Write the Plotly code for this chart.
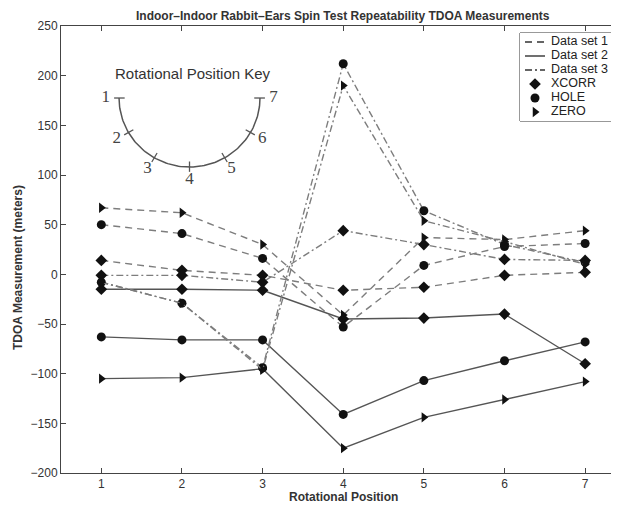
import numpy as np
import plotly.graph_objects as go

# ---------------- data ----------------
positions = [1, 2, 3, 4, 5, 6, 7]

ds1_xcorr = [14, 4, -1, -16, -13, -1, 2]
ds1_hole = [50, 41, 16, -53, 9, 28, 31]
ds1_zero = [67, 62, 30, -41, 37, 35, 44]

ds2_xcorr = [-15, -15, -16, -45, -44, -40, -90]
ds2_hole = [-63, -66, -66, -141, -107, -87, -68]
ds2_zero = [-105, -104, -95, -175, -144, -126, -108]

ds3_xcorr = [-1, -1, -8, 44, 30, 15, 14]
ds3_hole = [-8, -29, -94, 212, 64, 30, 12]
ds3_zero = [-8, -29, -96, 190, 54, 33, 10]

y_ticks = [-200, -150, -100, -50, 0, 50, 100, 150, 200, 250]
key_labels = ["1", "2", "3", "4", "5", "6", "7"]

set_names = ["Data set 1", "Data set 2", "Data set 3"]
method_names = ["XCORR", "HOLE", "ZERO"]

# ---------------- geometry (screen px; page body has an 8px margin) ----------------
OFF = 8
W, H = 619 - OFF, 507 - OFF
ML, MR, MT, MB = 61 - OFF, 0, 26 - OFF, 34
PW, PH = W - ML - MR, H - MT - MB


def px_x(sx):
    return (sx - OFF - ML) / PW


def px_y(sy):
    return (H - MB - (sy - OFF)) / PH


dash_styles = {"Data set 1": "7px,5px", "Data set 2": "solid", "Data set 3": "7px,3px,2px,3px"}
line_colors = {"Data set 1": "#7d7d7d", "Data set 2": "#555555", "Data set 3": "#7d7d7d"}
symbols = {"XCORR": "diamond", "HOLE": "circle", "ZERO": "triangle-right"}

series = {
    ("Data set 1", "XCORR"): ds1_xcorr,
    ("Data set 1", "HOLE"): ds1_hole,
    ("Data set 1", "ZERO"): ds1_zero,
    ("Data set 2", "XCORR"): ds2_xcorr,
    ("Data set 2", "HOLE"): ds2_hole,
    ("Data set 2", "ZERO"): ds2_zero,
    ("Data set 3", "XCORR"): ds3_xcorr,
    ("Data set 3", "HOLE"): ds3_hole,
    ("Data set 3", "ZERO"): ds3_zero,
}

fig = go.Figure()

for (sname, mname), vals in series.items():
    fig.add_trace(go.Scatter(
        x=positions, y=vals, mode="lines+markers", name=f"{sname} {mname}",
        line=dict(color=line_colors[sname], width=1.4, dash=dash_styles[sname]),
        marker=dict(symbol=symbols[mname], size=9, color="#111111"),
        showlegend=False, hoverinfo="skip",
    ))

# ---------------- rotational position key (inset) ----------------
n_keys = len(key_labels)
key_angles = np.deg2rad(180 + 180 * np.arange(n_keys) / (n_keys - 1))
arc_t = np.deg2rad(np.linspace(180, 360, 121))
fig.add_trace(go.Scatter(
    x=np.cos(arc_t), y=np.sin(arc_t), mode="lines",
    line=dict(color="#555555", width=1.5), xaxis="x2", yaxis="y2",
    showlegend=False, hoverinfo="skip",
))
tick_x, tick_y = [], []
for a in key_angles:
    tick_x += [0.92 * np.cos(a), 1.07 * np.cos(a), None]
    tick_y += [0.92 * np.sin(a), 1.07 * np.sin(a), None]
fig.add_trace(go.Scatter(
    x=tick_x, y=tick_y, mode="lines",
    line=dict(color="#555555", width=1.3), xaxis="x2", yaxis="y2",
    showlegend=False, hoverinfo="skip",
))
fig.add_trace(go.Scatter(
    x=1.19 * np.cos(key_angles), y=1.19 * np.sin(key_angles),
    mode="text", text=key_labels, textposition="middle center",
    textfont=dict(family="Liberation Serif", size=17, color="#444444"),
    xaxis="x2", yaxis="y2", showlegend=False, hoverinfo="skip", cliponaxis=False,
))

# ---------------- legend (drawn in its own small axes, px units) ----------------
LEG_L, LEG_R, LEG_T, LEG_B = 520, 613, 33, 121
row_y = [42 + 14 * i for i in range(6)]
for i, sname in enumerate(set_names):
    fig.add_trace(go.Scatter(
        x=[525, 545], y=[row_y[i], row_y[i]], mode="lines",
        line=dict(color="#333333", width=1.4, dash=dash_styles[sname]),
        xaxis="x3", yaxis="y3", showlegend=False, hoverinfo="skip",
    ))
for j, mname in enumerate(method_names):
    fig.add_trace(go.Scatter(
        x=[535], y=[row_y[3 + j]], mode="markers",
        marker=dict(symbol=symbols[mname], size=9, color="#111111"),
        xaxis="x3", yaxis="y3", showlegend=False, hoverinfo="skip",
    ))
fig.add_trace(go.Scatter(
    x=[551] * 6, y=row_y, mode="text", text=set_names + method_names,
    textposition="middle right",
    textfont=dict(family="Liberation Sans", size=12.5, color="#222222"),
    xaxis="x3", yaxis="y3", showlegend=False, hoverinfo="skip", cliponaxis=False,
))

# ---------------- layout ----------------
axis_common = dict(
    showline=True, linecolor="#444444", linewidth=1, mirror="ticks",
    ticks="inside", ticklen=5, tickcolor="#444444", showgrid=False, zeroline=False,
    tickfont=dict(family="Liberation Sans", size=12, color="#333333"),
)

fig.update_layout(
    width=W, height=H,
    margin=dict(l=ML, r=MR, t=MT, b=MB),
    paper_bgcolor="white", plot_bgcolor="white",
    showlegend=False,
    xaxis=dict(range=[0.5, 7.42], tickvals=positions, **axis_common),
    yaxis=dict(range=[-200, 250], tickvals=y_ticks, **axis_common),
    xaxis2=dict(domain=[px_x(100), px_x(280)], range=[-1.27, 1.284], visible=False,
                anchor="y2", fixedrange=True),
    yaxis2=dict(domain=[px_y(190), px_y(90)], range=[-1.333, 0.116], visible=False,
                anchor="x2", fixedrange=True),
    xaxis3=dict(domain=[px_x(LEG_L), px_x(LEG_R)], range=[LEG_L, LEG_R], visible=False,
                anchor="y3", fixedrange=True),
    yaxis3=dict(domain=[px_y(LEG_B), px_y(LEG_T)], range=[LEG_B, LEG_T], visible=False,
                anchor="x3", fixedrange=True),
    shapes=[
        dict(type="rect", xref="paper", yref="paper",
             x0=px_x(LEG_L), x1=px_x(LEG_R), y0=px_y(LEG_B), y1=px_y(LEG_T),
             line=dict(color="#333333", width=1), fillcolor="white", layer="below"),
    ],
    annotations=[
        dict(text="<b>Indoor–Indoor Rabbit–Ears Spin Test Repeatability TDOA Measurements</b>",
             x=px_x(343), y=px_y(16), xref="paper", yref="paper", showarrow=False,
             xanchor="center", yanchor="middle",
             font=dict(family="Liberation Sans", size=12, color="#333333")),
        dict(text="<b>Rotational Position</b>",
             x=px_x(343), y=px_y(497), xref="paper", yref="paper", showarrow=False,
             xanchor="center", yanchor="middle",
             font=dict(family="Liberation Sans", size=12, color="#333333")),
        dict(text="<b>TDOA Measurement (meters)</b>",
             x=px_x(18), y=px_y(268), xref="paper", yref="paper", showarrow=False,
             xanchor="center", yanchor="middle", textangle=-90,
             font=dict(family="Liberation Sans", size=12, color="#333333")),
        dict(text="Rotational Position Key",
             x=px_x(193), y=px_y(73), xref="paper", yref="paper", showarrow=False,
             xanchor="center", yanchor="middle",
             font=dict(family="Liberation Sans", size=15, color="#333333")),
    ],
)

fig.write_html("out.html")
